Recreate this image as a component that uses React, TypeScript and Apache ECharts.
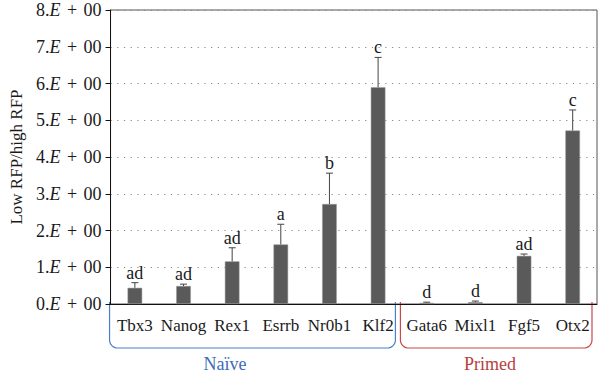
import React, { useEffect, useRef } from "react";
import * as echarts from "echarts";

const categories = ["Tbx3", "Nanog", "Rex1", "Esrrb", "Nr0b1", "Klf2", "Gata6", "Mixl1", "Fgf5", "Otx2"];
const means = [0.44, 0.49, 1.16, 1.62, 2.72, 5.9, 0.03, 0.05, 1.31, 4.72];
const errTops = [0.58, 0.54, 1.53, 2.17, 3.56, 6.71, 0.05, 0.08, 1.36, 5.28];
const letters = ["ad", "ad", "ad", "a", "b", "c", "d", "d", "ad", "c"];
const yTicks = [0, 1, 2, 3, 4, 5, 6, 7, 8];
const groups = [
  { name: "Naïve", from: 0, to: 6, color: "#4a7fc9", textColor: "#3d6db5" },
  { name: "Primed", from: 6, to: 10, color: "#c9484a", textColor: "#b8403e" },
];

const FONT = "Liberation Serif, DejaVu Serif, serif";

export default function App() {
  const ref = useRef<HTMLDivElement>(null);
  useEffect(() => {
    if (!ref.current) return;
    const chart = echarts.init(ref.current, null, { renderer: "svg" });
    const option: any = {
      animation: false,
      backgroundColor: "#fff",
      grid: {
        left: 97,
        right: 3,
        top: 10,
        bottom: 72,
        show: true,
        borderColor: "#555",
        borderWidth: 1,
        backgroundColor: "transparent",
      },
      xAxis: {
        type: "category",
        data: categories,
        axisTick: { show: false },
        axisLine: { lineStyle: { color: "#111", width: 1 } },
        axisLabel: { interval: 0, fontFamily: FONT, fontSize: 17, color: "#1a1a1a", margin: 13 },
      },
      yAxis: {
        type: "value",
        min: yTicks[0],
        max: yTicks[yTicks.length - 1],
        interval: 1,
        name: "Low RFP/high RFP",
        nameLocation: "middle",
        nameGap: 84,
        nameTextStyle: { fontFamily: FONT, fontSize: 17, color: "#1a1a1a" },
        axisLine: { show: true, lineStyle: { color: "#111", width: 1 } },
        axisTick: { show: true, length: 5, lineStyle: { color: "#111" } },
        axisLabel: {
          margin: 9,
          formatter: (v: number) => `{n|${v}.}{e|E}{s| + }{n|00}`,
          rich: {
            n: { fontFamily: FONT, fontSize: 18, color: "#1a1a1a" },
            s: { fontFamily: FONT, fontSize: 18, color: "#1a1a1a", padding: [0, 2, 0, 2] },
            e: { fontFamily: FONT, fontSize: 18, color: "#1a1a1a", fontStyle: "italic" },
          },
        },
        splitLine: { show: true, lineStyle: { color: "#888", width: 1, type: [1.2, 5.5] } },
      },
      series: [
        {
          type: "bar",
          data: means,
          barWidth: "30%",
          itemStyle: { color: "#5a5a5a", borderColor: "#9a9a9a", borderWidth: 0.5 },
        },
        {
          type: "custom",
          data: categories.map((_, i) => [i, means[i], errTops[i]]),
          renderItem: (params: any, api: any) => {
            const i = api.value(0);
            const base = api.coord([i, api.value(1)]);
            const top = api.coord([i, api.value(2)]);
            const cap = 3.5;
            return {
              type: "group",
              children: [
                { type: "line", shape: { x1: base[0], y1: base[1], x2: top[0], y2: top[1] }, style: { stroke: "#444", lineWidth: 1 } },
                { type: "line", shape: { x1: top[0] - cap, y1: top[1], x2: top[0] + cap, y2: top[1] }, style: { stroke: "#444", lineWidth: 1 } },
                {
                  type: "text",
                  x: top[0],
                  y: top[1] - 1,
                  style: {
                    text: letters[params.dataIndex],
                    fontFamily: FONT,
                    fontSize: 18,
                    fill: "#1a1a1a",
                    align: "center",
                    verticalAlign: "bottom",
                  },
                },
              ],
            };
          },
          z: 3,
        },
      ],
    };
    chart.setOption(option);

    const c0 = chart.convertToPixel({ xAxisIndex: 0 }, 0) as number;
    const c1 = chart.convertToPixel({ xAxisIndex: 0 }, 1) as number;
    const band = c1 - c0;
    const edge = (k: number) => c0 - band / 2 + k * band;
    const yTop = 302;
    const yBot = 348;
    const r = 8;
    const arc = (cx: number, cy: number, a0: number, a1: number) => {
      const pts: number[][] = [];
      for (let s = 0; s <= 8; s++) {
        const a = a0 + ((a1 - a0) * s) / 8;
        pts.push([cx + r * Math.cos(a), cy + r * Math.sin(a)]);
      }
      return pts;
    };
    const insets = [
      [-1, -7],
      [-2, -5],
    ];
    const textX = [225, 490];
    const graphics: any[] = [];
    groups.forEach((g, gi) => {
      const L = edge(g.from) + insets[gi][0];
      const R = edge(g.to) + insets[gi][1];
      const pts = [
        [L, yTop],
        ...arc(L + r, yBot - r, Math.PI, Math.PI / 2),
        ...arc(R - r, yBot - r, Math.PI / 2, 0),
        [R, yTop],
      ];
      graphics.push({
        type: "polyline",
        shape: { points: pts },
        style: { stroke: g.color, lineWidth: 1.2, fill: null },
        silent: true,
      });
      graphics.push({
        type: "text",
        x: textX[gi],
        y: 364,
        style: {
          text: g.name,
          fontFamily: FONT,
          fontSize: 18,
          fill: g.textColor,
          align: "center",
          verticalAlign: "middle",
        },
      });
    });
    chart.setOption({ graphic: graphics });

    return () => chart.dispose();
  }, []);
  return <div ref={ref} style={{ position: "absolute", left: 0, top: 0, width: 600, height: 376 }} />;
}
